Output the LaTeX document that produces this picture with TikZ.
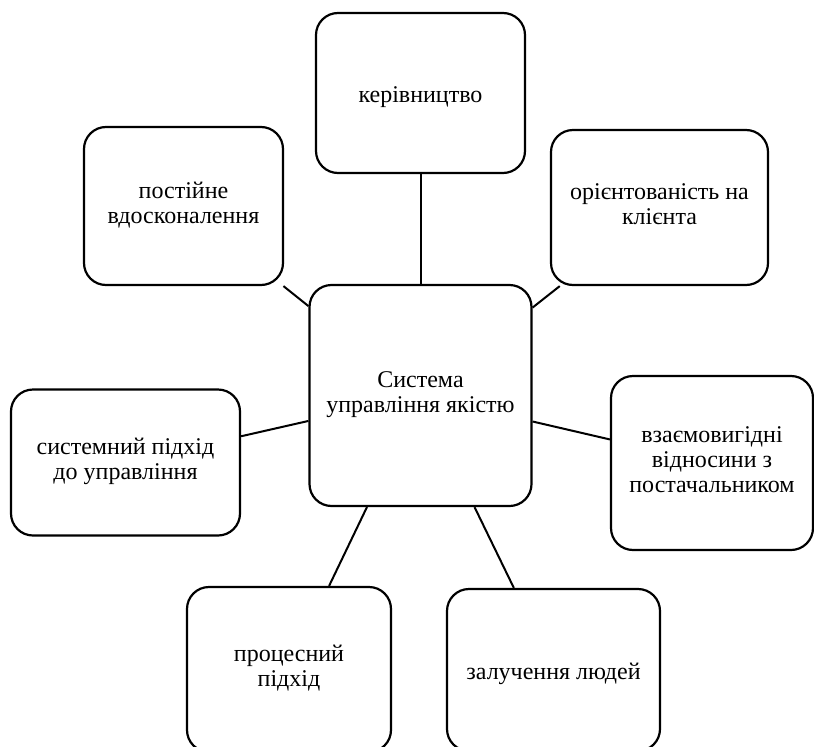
\documentclass[tikz,border=0pt]{standalone}
\usepackage{fontspec}
\setmainfont{Liberation Serif}
\begin{document}
\begin{tikzpicture}[x=1pt,y=-1pt,
  box/.style={draw, line width=2.2pt, rounded corners=22pt, align=center,
    font=\fontsize{24}{25}\selectfont, inner sep=0pt,
    execute at begin node={\rule{0pt}{26pt}},
    execute at end node={\rule[-7pt]{0pt}{7pt}}},
  link/.style={line width=2pt}]
\useasboundingbox (0,0) rectangle (814,747);
\node[box, minimum width=222pt, minimum height=221pt] (center) at (420.5,395.5) {Система\\управління якістю};
\node[box, minimum width=209pt, minimum height=160pt] (top) at (420.5,93) {керівництво};
\node[box, minimum width=199pt, minimum height=158pt] (tl) at (183.5,206) {постійне\\вдосконалення};
\node[box, minimum width=217pt, minimum height=155pt] (tr) at (659.5,207.5) {орієнтованість на\\клієнта};
\node[box, minimum width=229pt, minimum height=146pt] (left) at (125.5,462.5) {системний підхід\\до управління};
\node[box, minimum width=202pt, minimum height=174pt] (right) at (712,463) {взаємовигідні\\відносини з\\постачальником};
\node[box, minimum width=204pt, minimum height=165pt] (bl) at (289,669.5) {процесний\\підхід};
\node[box, minimum width=213pt, minimum height=162pt] (br) at (553.5,670) {залучення людей};
\draw[link] (center) -- (top);
\draw[link] (center) -- (tl);
\draw[link] (center) -- (tr);
\draw[link] (center) -- (left);
\draw[link] (center) -- (right);
\draw[link] (center) -- (bl);
\draw[link] (center) -- (br);
\end{tikzpicture}
\end{document}
